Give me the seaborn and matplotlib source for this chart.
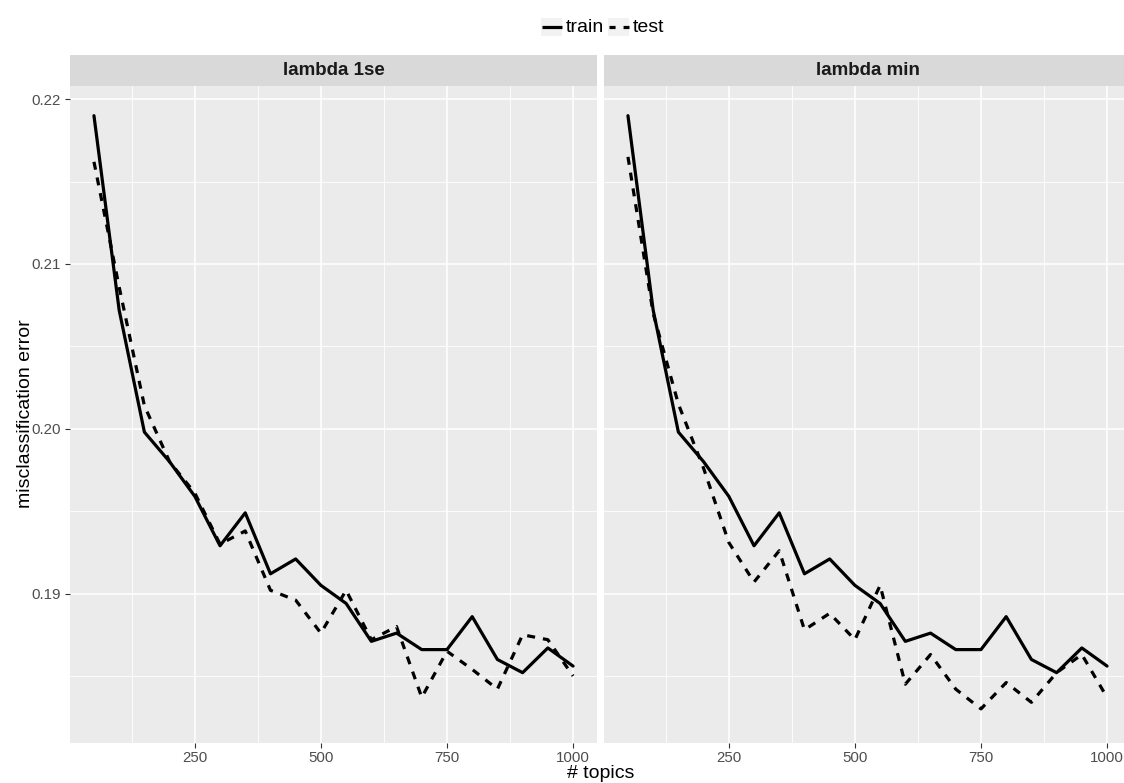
import pandas as pd
import matplotlib
matplotlib.use("Agg")
import matplotlib.pyplot as plt
from matplotlib.lines import Line2D
from matplotlib.patches import Rectangle
import seaborn as sns

# number of topics (x) and misclassification errors
topics = [50, 100, 150, 200, 250, 300, 350, 400, 450, 500,
          550, 600, 650, 700, 750, 800, 850, 900, 950, 1000]
train_error = [0.2190, 0.2072, 0.1998, 0.1980, 0.1959, 0.1929, 0.1949, 0.1912, 0.1921, 0.1905,
               0.1894, 0.1871, 0.1876, 0.1866, 0.1866, 0.1886, 0.1860, 0.1852, 0.1867, 0.1856]
test_error_1se = [0.2162, 0.2086, 0.2014, 0.1980, 0.1961, 0.1930, 0.1938, 0.1902, 0.1896, 0.1876,
                  0.1902, 0.1872, 0.1880, 0.1837, 0.1865, 0.1854, 0.1842, 0.1875, 0.1872, 0.1850]
test_error_min = [0.2165, 0.2070, 0.2015, 0.1976, 0.1931, 0.1907, 0.1926, 0.1878, 0.1888, 0.1872,
                  0.1905, 0.1845, 0.1863, 0.1842, 0.1830, 0.1846, 0.1834, 0.1852, 0.1863, 0.1837]
panel_titles = ["lambda 1se", "lambda min"]
set_names = ["train", "test"]
x_breaks = [250, 500, 750, 1000]
x_minor = [125, 375, 625, 875]
y_breaks = [0.19, 0.20, 0.21, 0.22]
y_minor = [0.185, 0.195, 0.205, 0.215]

# long table, one row per point
rows = []
for title, test in zip(panel_titles, [test_error_1se, test_error_min]):
    for t, tr, te in zip(topics, train_error, test):
        rows.append({"panel": title, "topics": t, "set": "train", "error": tr})
        rows.append({"panel": title, "topics": t, "set": "test", "error": te})
df = pd.DataFrame(rows)

sns.set_theme(style="darkgrid")
plt.rcParams["font.family"] = ["Liberation Sans", "DejaVu Sans"]

W, H = 1124, 783
fig = plt.figure(figsize=(W / 100, H / 100), dpi=100)


def fx(px):
    return px / W


def fy(py):
    return 1 - py / H


panel_w = 527
panel_top, panel_bot = 85.7, 742.7
strip_top = 55
lefts = [70, 604]
dash = (2.5, 2.5)

for i, (title, left) in enumerate(zip(panel_titles, lefts)):
    ax = fig.add_axes([fx(left), fy(panel_bot), panel_w / W, (panel_bot - panel_top) / H])
    ax.set_facecolor("#EBEBEB")
    ax.set_axisbelow(True)
    sub = df[df["panel"] == title]
    sns.lineplot(data=sub, x="topics", y="error", style="set", style_order=set_names,
                 dashes={"train": "", "test": dash}, color="black", linewidth=2.3,
                 legend=False, ax=ax)
    ax.set_xlim(2.5, 1047.5)
    ax.set_ylim(0.18095, 0.22082)
    ax.set_xticks(x_breaks)
    ax.set_xticks(x_minor, minor=True)
    ax.set_yticks(y_breaks)
    ax.set_yticks(y_minor, minor=True)
    ax.grid(which="major", color="white", linewidth=1.15)
    ax.grid(which="minor", color="white", linewidth=0.6)
    for s in ax.spines.values():
        s.set_visible(False)
    ax.set_xlabel("")
    ax.set_ylabel("")
    ax.set_xticklabels([str(v) for v in x_breaks])
    ax.tick_params(axis="x", which="major", length=3.5, width=0.8, color="#333333",
                   pad=2.8, labelsize=10.8, labelcolor="#4D4D4D", bottom=True)
    ax.tick_params(which="minor", length=0)
    if i == 0:
        ax.set_yticklabels([f"{v:.2f}" for v in y_breaks])
        ax.tick_params(axis="y", which="major", length=3.5, width=0.8, color="#333333",
                       pad=2.8, labelsize=10.8, labelcolor="#4D4D4D", left=True)
    else:
        ax.tick_params(axis="y", which="major", length=0, labelleft=False)

    # facet strip
    sax = fig.add_axes([fx(left), fy(panel_top), panel_w / W, (panel_top - strip_top) / H])
    sax.set_facecolor("#D9D9D9")
    sax.set_xticks([])
    sax.set_yticks([])
    for s in sax.spines.values():
        s.set_visible(False)
    sax.text(0.5, 0.5, title, ha="center", va="center", fontsize=13.5,
             fontweight="bold", color="#1A1A1A", transform=sax.transAxes)

# axis titles
fig.text(fx(601), fy(778), "# topics", ha="center", va="baseline", fontsize=14, color="black")
fig.text(fx(26), fy(414), "misclassification error", ha="center", va="center",
         rotation=90, fontsize=14, color="black")

# legend on top
key_y = 27
for x0, name, ls in [(540.7, "train", "-"), (608, "test", (0, (1.9, 2.5)))]:
    fig.patches.append(Rectangle((fx(x0), fy(36)), 21 / W, 17.7 / H, transform=fig.transFigure,
                                 facecolor="#F2F2F2", edgecolor="none"))
    fig.lines.append(Line2D([fx(x0 + 1.3), fx(x0 + 21)], [fy(key_y), fy(key_y)],
                            transform=fig.transFigure, color="black", linewidth=2.3,
                            linestyle=ls, solid_capstyle="butt", dash_capstyle="butt"))
    fig.text(fx(x0 + 25), fy(key_y), name, ha="left", va="center", fontsize=14, color="black")

fig.savefig("out.png", dpi=100)
